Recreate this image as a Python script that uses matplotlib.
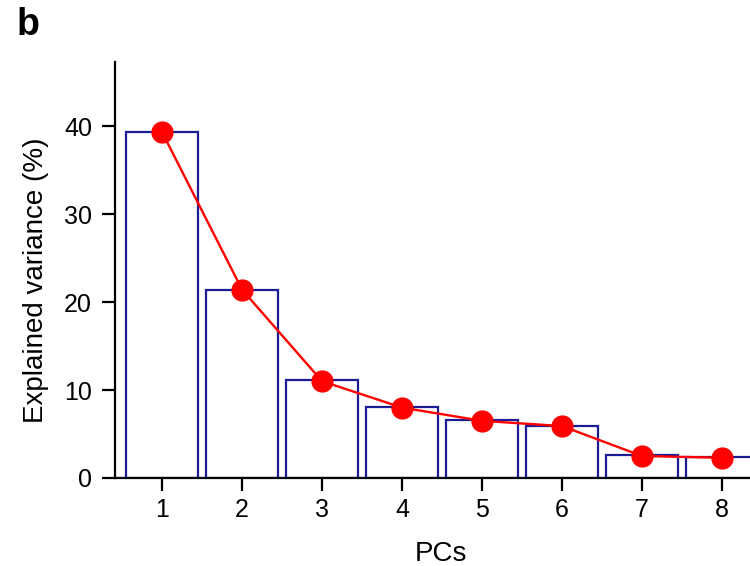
import matplotlib
matplotlib.use("Agg")
import matplotlib.pyplot as plt

plt.rcParams['font.family'] = ['Liberation Sans', 'DejaVu Sans']

pcs = [1, 2, 3, 4, 5, 6, 7, 8]
bar_values = [39.3, 21.4, 11.1, 8.1, 6.6, 5.9, 2.6, 2.4]
line_values = [39.3, 21.4, 11.0, 8.0, 6.5, 5.9, 2.5, 2.3]
yticks = [0, 10, 20, 30, 40]

fig = plt.figure(figsize=(7.5, 5.66), dpi=100)
ax = fig.add_axes([0.1533, 0.1555, 0.8467, 0.735])

ax.bar(pcs, bar_values, width=0.9, facecolor='white', edgecolor='#1c1c96', linewidth=1.6, zorder=2)
ax.plot(pcs, line_values, color='red', linewidth=1.7, marker='o', markersize=15, zorder=3, clip_on=False)

ax.set_xlim(0.41, 8.35)
ax.set_ylim(0, 47.3)
ax.set_xticks(pcs)
ax.set_yticks(yticks)
for s in ['top', 'right']:
    ax.spines[s].set_visible(False)
for s in ['left', 'bottom']:
    ax.spines[s].set_linewidth(1.6)
ax.tick_params(axis='both', direction='out', length=9.5, width=1.6, labelsize=18)
ax.tick_params(axis='y', pad=7)
ax.tick_params(axis='x', pad=5)

fig.text(441 / 750, 1 - 561 / 566, 'PCs', fontsize=20, ha='center', va='baseline')
fig.text(36 / 750, 1 - 280 / 566, 'Explained variance (%)', fontsize=20,
         rotation=90, ha='center', va='center')

fig.text(0.022, 0.938, 'b', fontsize=27, fontweight='bold')

fig.savefig('out.png', dpi=100)
